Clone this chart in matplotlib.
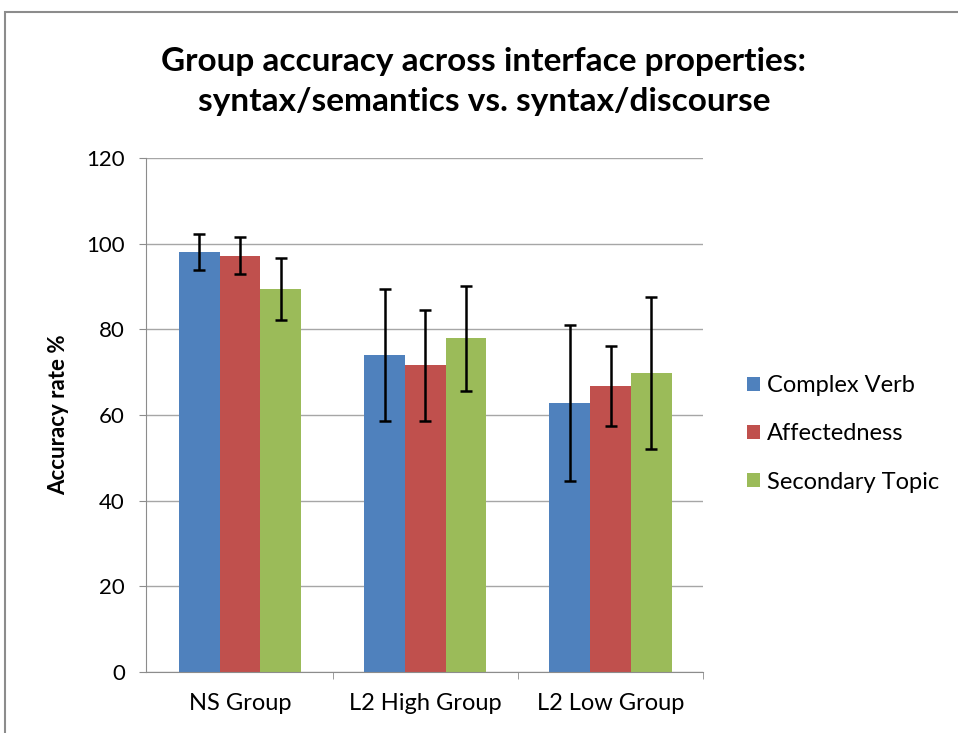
import numpy as np
import matplotlib
matplotlib.use("Agg")
import matplotlib.pyplot as plt
from matplotlib.patches import Rectangle

plt.rcParams['font.family'] = ['Lato', 'DejaVu Sans']

# Data
groups = ["NS Group", "L2 High Group", "L2 Low Group"]
series = ["Complex Verb", "Affectedness", "Secondary Topic"]
complex_verb = [98.0, 74.0, 62.7]
affectedness = [97.2, 71.6, 66.8]
secondary_topic = [89.4, 77.9, 69.8]
err_complex_verb = [4.2, 15.4, 18.2]
err_affectedness = [4.4, 12.9, 9.3]
err_secondary_topic = [7.3, 12.2, 17.7]
colors = ["#4F81BD", "#C0504D", "#9BBB59"]

fig = plt.figure(figsize=(9.58, 7.33), dpi=100)
ax = fig.add_axes([0.152, 0.0832, 0.582, 0.7013])

# outer chart frame
fig.patches.append(Rectangle((5 / 958, -0.05), 1.0, 1 - 12 / 733 + 0.05,
                             transform=fig.transFigure, fill=False,
                             edgecolor="#8c8c8c", linewidth=1.5))

x = np.arange(len(groups))
w = 0.22
values = [complex_verb, affectedness, secondary_topic]
errs = [err_complex_verb, err_affectedness, err_secondary_topic]
for i, (vals, e) in enumerate(zip(values, errs)):
    ax.bar(x + (i - 1) * w, vals, width=w, color=colors[i], label=series[i],
           zorder=2)
    ax.errorbar(x + (i - 1) * w, vals, yerr=e, fmt="none", ecolor="black",
                elinewidth=1.8, capsize=4, capthick=1.8, zorder=3)

ax.set_ylim(0, 120)
ax.set_xlim(-0.51, 2.5)
ax.set_yticks(range(0, 121, 20))
ax.yaxis.grid(True, color="#a6a6a6", linewidth=1, zorder=0)
ax.set_axisbelow(True)
ax.set_xticks(x)
ax.set_xticklabels(groups)
ax.set_xticks([0.5, 1.5, 2.5], minor=True)
ax.tick_params(axis="x", which="major", length=0, pad=15, labelsize=17)
ax.tick_params(axis="x", which="minor", length=5, color="#8c8c8c", direction="out")
ax.tick_params(axis="y", length=5, color="#8c8c8c", labelsize=16, pad=10)
for s in ["top", "right"]:
    ax.spines[s].set_visible(False)
ax.spines["left"].set_color("#8c8c8c")
ax.spines["bottom"].set_color("#8c8c8c")

ax.set_ylabel("Accuracy rate %", fontsize=16, fontweight="bold", labelpad=12)

fig.text(0.505, 0.889, "Group accuracy across interface properties:\nsyntax/semantics vs. syntax/discourse",
         ha="center", va="center", fontsize=24, fontweight="bold", linespacing=1.45)

fig.legend(loc="center left", bbox_to_anchor=(0.7575, 0.408), frameon=False,
           fontsize=17, handlelength=0.55, handleheight=0.55, labelspacing=1.15,
           handletextpad=0.3)

fig.savefig("out.png", dpi=100)
